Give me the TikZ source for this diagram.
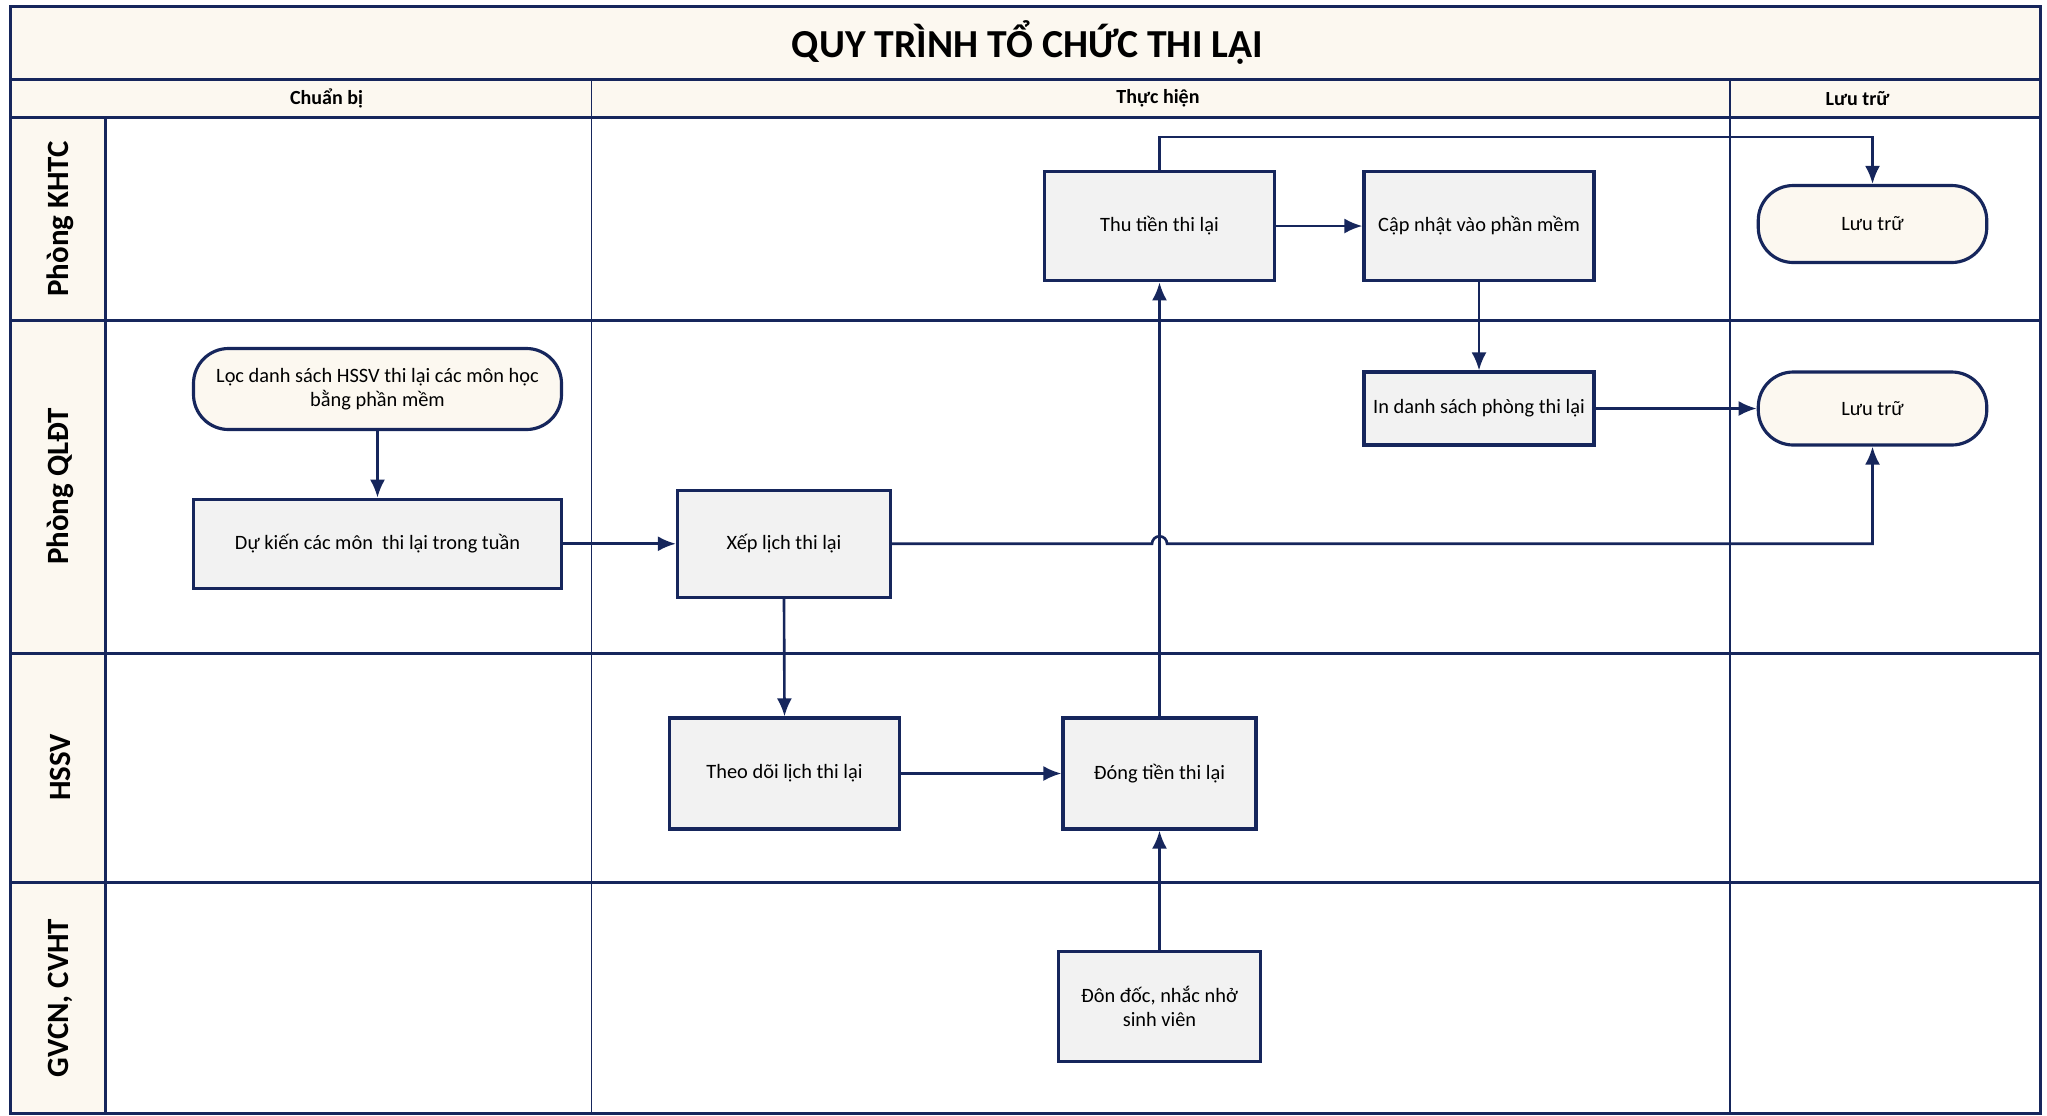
\documentclass[tikz,border=0pt]{standalone}
\usepackage{fontspec}
\setmainfont{Carlito}
\usepackage{tikz}
\usetikzlibrary{arrows.meta,positioning}
\definecolor{navy}{RGB}{22,38,92}
\definecolor{cream}{RGB}{252,248,240}
\definecolor{boxgray}{RGB}{242,242,242}

\begin{document}
\begin{tikzpicture}[
  lane/.style={draw=navy, line width=1.7pt},
  divider/.style={draw=navy, line width=0.8pt},
  task/.style={draw=navy, line width=1.8pt, fill=boxgray, align=center, inner sep=2pt, font=\fontsize{11.6}{14}\selectfont},
  term/.style={task, fill=cream, rounded corners=0.7cm},
  lanelbl/.style={rotate=90, font=\fontsize{17.6}{20}\selectfont\bfseries},
  colhdr/.style={font=\fontsize{11.4}{13}\selectfont\bfseries},
  flow/.style={->, >={Latex[length=3.6mm,width=3mm]}, draw=navy, line width=1.5pt}
]
\useasboundingbox (0,0) rectangle (40.94,-22.30);

% --- frame, header and lanes ---
\fill[cream] (0.21,-0.13) rectangle (40.81,-2.35);
\fill[cream] (0.21,-2.35) rectangle (2.11,-22.26);
\draw[divider] (11.83,-1.59) -- (11.83,-22.26);
\draw[divider] (34.60,-1.59) -- (34.60,-22.26);
\foreach \y in {-1.59,-2.35,-6.40,-13.06,-17.65}
  \draw[lane] (0.21,\y) -- (40.81,\y);
\draw[lane] (2.11,-2.35) -- (2.11,-22.26);
\draw[lane] (0.21,-0.13) rectangle (40.81,-22.26);

\node[font=\fontsize{22.6}{26}\selectfont\bfseries] (title) at (20.55,-0.86) {QUY TRÌNH TỔ CHỨC THI LẠI};
\node[colhdr] (h_prep) at (6.53,-1.97) {Chuẩn bị};
\node[colhdr] (h_exec) at (23.16,-1.97) {Thực hiện};
\node[colhdr] (h_arch) at (37.15,-1.97) {Lưu trữ};

\node[lanelbl] (l_khtc) at (1.2,-4.38) {Phòng KHTC};
\node[lanelbl] (l_qldt) at (1.2,-9.73) {Phòng QLĐT};
\node[lanelbl] (l_hssv) at (1.2,-15.35) {HSSV};
\node[lanelbl] (l_gvcn) at (1.2,-19.96) {GVCN, CVHT};

% --- Phong QLDT ---
\node[term, minimum width=7.36cm, minimum height=1.62cm] (loc) at (7.55,-7.78) {Lọc danh sách HSSV thi lại các môn học\\bằng phần mềm};
\node[task, minimum width=7.36cm, minimum height=1.78cm] (duk) at (7.55,-10.875) {Dự kiến các môn\ \ thi lại trong tuần};
\node[task, minimum width=4.26cm, minimum height=2.14cm] (xep) at (15.68,-10.875) {Xếp lịch thi lại};
\node[task, minimum width=4.60cm, minimum height=1.46cm] (inds) at (29.58,-8.17) {In danh sách phòng thi lại};

% --- HSSV / GVCN ---
\node[task, minimum width=4.60cm, minimum height=2.22cm] (theo) at (15.69,-15.47) {Theo dõi lịch thi lại};
\node[task, minimum width=3.86cm, minimum height=2.22cm] (dong) at (23.19,-15.47) {Đóng tiền thi lại};
\node[task, minimum width=4.05cm, minimum height=2.19cm] (don) at (23.19,-20.13) {Đôn đốc, nhắc nhở\\sinh viên};

% --- Phong KHTC ---
\node[task, minimum width=4.60cm, minimum height=2.19cm] (thu) at (23.19,-4.52) {Thu tiền thi lại};
\node[task, minimum width=4.60cm, minimum height=2.19cm] (cap) at (29.58,-4.52) {Cập nhật vào phần mềm};

% --- Luu tru ---
\node[term, minimum width=4.57cm, minimum height=1.54cm] (lt1) at (37.45,-4.48) {Lưu trữ};
\node[term, minimum width=4.57cm, minimum height=1.46cm] (lt2) at (37.45,-8.17) {Lưu trữ};

% Flow arrows
\draw[flow] (loc.south) -- (duk.north);
\draw[flow] (duk.east) -- (xep.west);
\draw[flow] (xep.south) -- (theo.north);
\draw[flow] (theo.east) -- (dong.west);
\draw[flow] (don.north) -- (dong.south);
\draw[flow] (dong.north) -- (thu.south);
\draw[flow] (thu.east) -- (cap.west);
\draw[flow] (cap.south) -- (inds.north);
\draw[flow] (inds.east) -- (lt2.west);
\draw[flow] (thu.north) -- ++(0,0.65) -| (lt1.north);
\coordinate (hop) at (xep.east -| thu.south);
\draw[flow] (xep.east) -- ([xshift=-0.15cm]hop) arc[start angle=180, end angle=0, radius=0.15cm] -| (lt2.south);
\end{tikzpicture}
\end{document}
